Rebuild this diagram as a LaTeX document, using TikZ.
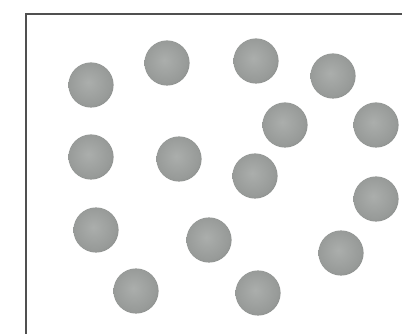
\documentclass[tikz,border=0pt]{standalone}
\definecolor{sphc}{HTML}{ABAEAC}
\definecolor{sphm}{HTML}{979A98}
\definecolor{sphr}{HTML}{777A78}
\definecolor{sphe}{HTML}{575A58}
\definecolor{boxc}{HTML}{505050}
\pgfdeclareradialshading{sphere}{\pgfpoint{-3bp}{3bp}}{color(0bp)=(sphc); color(24bp)=(sphm); color(38bp)=(sphr); color(47bp)=(sphe); color(60bp)=(sphe)}
\tikzset{
  ball/.style={shading=sphere},
  wall/.style={draw=boxc, line width=1.3pt}
}
\begin{document}
\begin{tikzpicture}[x=1pt,y=-1pt]
\useasboundingbox (0,0) rectangle (402,334);
\fill[white] (0,0) rectangle (402,334);
\draw[wall] (26,336) -- (26,14) -- (404,14);
\foreach \x/\y in {91/85, 167/63, 256/61, 333/76, 285/125, 376/125, 91/157, 179/159, 255/176, 376/199, 96/230, 209/240, 341/253, 136/291, 258/293}
  \shade[ball] (\x,\y) circle[radius=22.6];
\end{tikzpicture}
\end{document}
